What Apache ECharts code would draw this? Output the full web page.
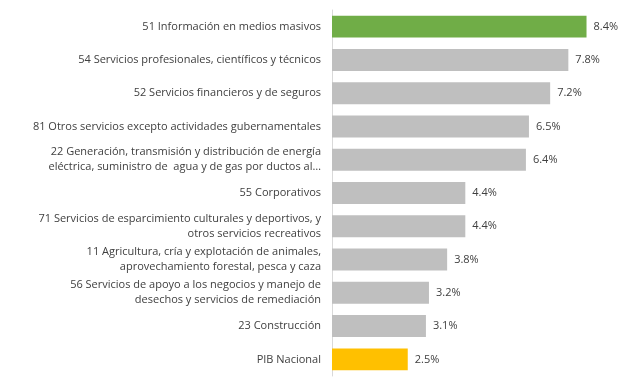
<!DOCTYPE html>
<html><head><meta charset="utf-8">
<script src="https://cdn.jsdelivr.net/npm/echarts@6/dist/echarts.min.js"></script>
<style>html,body{margin:0;padding:0;background:#fff}#c{width:636px;height:384px}</style>
</head><body><div id="c"></div>
<script>
const categories = [
  "51 Información en medios masivos",
  "54 Servicios profesionales, científicos y técnicos",
  "52 Servicios financieros y de seguros",
  "81 Otros servicios excepto actividades gubernamentales",
  "22 Generación, transmisión y distribución de energía\neléctrica, suministro de  agua y de gas por ductos al…",
  "55 Corporativos",
  "71 Servicios de esparcimiento culturales y deportivos, y\notros servicios recreativos",
  "11 Agricultura, cría y explotación de animales,\naprovechamiento forestal, pesca y caza",
  "56 Servicios de apoyo a los negocios y manejo de\ndesechos y servicios de remediación",
  "23 Construcción",
  "PIB Nacional"
];
const values = [8.4, 7.8, 7.2, 6.5, 6.4, 4.4, 4.4, 3.8, 3.2, 3.1, 2.5];
const barColors = ["#70AD47","#BFBFBF","#BFBFBF","#BFBFBF","#BFBFBF","#BFBFBF","#BFBFBF","#BFBFBF","#BFBFBF","#BFBFBF","#FFC000"];

const FONT = "'Liberation Sans Narrow', 'Open Sans', sans-serif";
const chart = echarts.init(document.getElementById('c'), null, {renderer:'canvas'});
chart.setOption({
  animation: false,
  grid: {left: 332, right: 1, top: 10, bottom: 8, containLabel: false},
  xAxis: {type: 'value', min: 0, max: 10, show: false},
  yAxis: {
    type: 'category', inverse: true, data: categories,
    axisLine: {show: true, lineStyle: {color: '#D9D9D9', width: 1}},
    axisTick: {show: false},
    axisLabel: {color: '#404040', fontSize: 11, fontFamily: FONT, margin: 11, align: 'right', lineHeight: 15}
  },
  series: [{
    type: 'bar',
    data: values.map((v,i)=>({value:v, itemStyle:{color:barColors[i]}})),
    barCategoryGap: '34%',
    label: {show: true, position: 'right', distance: 7, color: '#404040', fontSize: 11, fontFamily: FONT,
      formatter: p => p.value.toFixed(1) + '%'}
  }]
});
</script></body></html>
